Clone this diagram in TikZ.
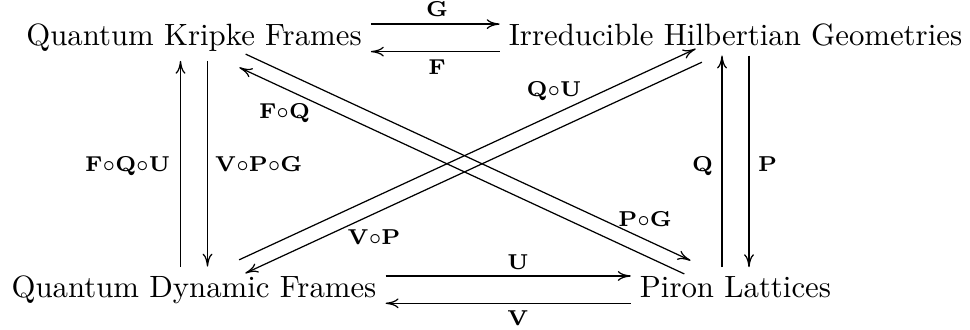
\documentclass[tikz,border=0pt]{standalone}
\usetikzlibrary{arrows.meta,calc}
\begin{document}
\begin{tikzpicture}[x=0.3247pt,y=-0.3247pt,
  obj/.style={inner sep=3pt, outer sep=0pt, anchor=base},
  arr/.style={line width=0.4pt, -{Computer Modern Rightarrow[length=4.2pt,width=3.2pt]}},
  lbl/.style={inner sep=0pt, outer sep=0pt}]
\useasboundingbox (0,0) rectangle (970,330);
% objects
\node[obj] (QKF) at (194,45.6) {Quantum Kripke Frames};
\node[obj] (IHG) at (735.5,45.6) {Irreducible Hilbertian Geometries};
\node[obj] (QDF) at (194,297.5) {Quantum Dynamic Frames};
\node[obj] (PL)  at (735.5,297.5) {Piron Lattices};
% horizontal arrows
\draw[arr] ($(QKF.base east)+(0,-21.5)$) -- ($(IHG.base west)+(0,-21.5)$);
\draw[arr] ($(IHG.base west)+(0,6)$) -- ($(QKF.base east)+(0,6)$);
\draw[arr] ($(QDF.base east)+(0,-21.5)$) -- ($(PL.base west)+(0,-21.5)$);
\draw[arr] ($(PL.base west)+(0,5.8)$) -- ($(QDF.base east)+(0,5.8)$);
% vertical arrows
\draw[arr] ($(QDF.north)+(-13.5,0)$) -- ($(QKF.south)+(-13.5,0)$);
\draw[arr] ($(QKF.south)+(13.5,0)$) -- ($(QDF.north)+(13.5,0)$);
\draw[arr] ($(PL.north)+(-13.5,0)$) -- ($(IHG.south)+(-13.5,0)$);
\draw[arr] ($(IHG.south)+(13.5,0)$) -- ($(PL.north)+(13.5,0)$);
% diagonal arrows
\draw[arr] ($(QKF.south)+(51.6,-6.7)$) -- ($(PL.north)+(-45,-6.7)$);
\draw[arr] ($(PL.north)+(-51.2,6.7)$) -- ($(QKF.south)+(45.4,6.7)$);
\draw[arr] ($(QDF.north)+(45.1,-6.7)$) -- ($(IHG.south)+(-39.8,-6.7)$);
\draw[arr] ($(IHG.south)+(-33.6,6.7)$) -- ($(QDF.north)+(51.3,6.7)$);
% labels
\node[lbl, anchor=base] (lG) at (437,17) {$\scriptstyle\mathbf{G}$};
\node[lbl, anchor=base] (lF) at (437,75) {$\scriptstyle\mathbf{F}$};
\node[lbl, anchor=base] (lU) at (518,269.3) {$\scriptstyle\mathbf{U}$};
\node[lbl, anchor=base] (lV) at (518,326) {$\scriptstyle\mathbf{V}$};
\node[lbl, anchor=base east] (lFQU) at (170,172) {$\scriptstyle\mathbf{F}\circ\mathbf{Q}\circ\mathbf{U}$};
\node[lbl, anchor=base west] (lVPG) at (215,172) {$\scriptstyle\mathbf{V}\circ\mathbf{P}\circ\mathbf{G}$};
\node[lbl, anchor=base east] (lQ) at (713,172) {$\scriptstyle\mathbf{Q}$};
\node[lbl, anchor=base west] (lP) at (758,172) {$\scriptstyle\mathbf{P}$};
\node[lbl, anchor=base] (lFQ) at (284.5,119) {$\scriptstyle\mathbf{F}\circ\mathbf{Q}$};
\node[lbl, anchor=base] (lVP) at (374,244.5) {$\scriptstyle\mathbf{V}\circ\mathbf{P}$};
\node[lbl, anchor=base] (lQU) at (554,96.5) {$\scriptstyle\mathbf{Q}\circ\mathbf{U}$};
\node[lbl, anchor=base] (lPG) at (645,226.5) {$\scriptstyle\mathbf{P}\circ\mathbf{G}$};
\end{tikzpicture}
\end{document}
